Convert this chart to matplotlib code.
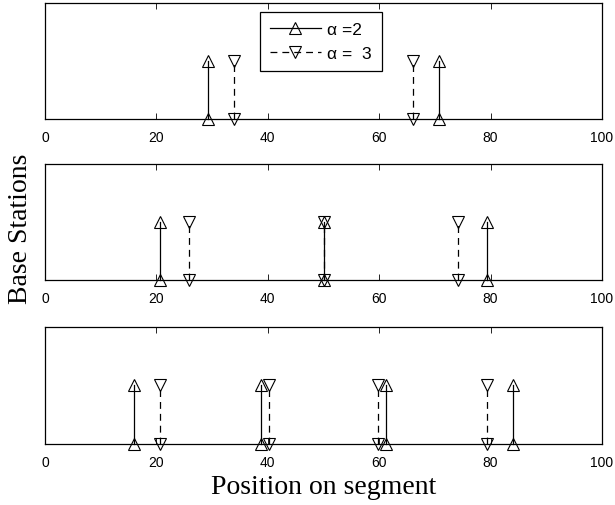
import matplotlib
matplotlib.use('Agg')
import matplotlib.pyplot as plt
import numpy as np

# stem positions (value 1 for every station)
top_a2 = [29.3, 70.7]
top_a3 = [34.0, 66.0]
mid_a2 = [20.7, 50.0, 79.3]
mid_a3 = [25.8, 50.0, 74.2]
bot_a2 = [16.0, 38.7, 61.3, 84.0]
bot_a3 = [20.7, 40.3, 59.7, 79.3]
xticks = [0, 20, 40, 60, 80, 100]
labels = ['\u03b1 =2', '\u03b1 =  3']

plt.rcParams['font.family'] = ['Liberation Sans', 'DejaVu Sans']

fig = plt.figure(figsize=(6.15, 5.06), dpi=100)
rects = [[0.0732, 0.7628, 0.9057, 0.2292],
         [0.0732, 0.4447, 0.9057, 0.2292],
         [0.0732, 0.1206, 0.9057, 0.2312]]
data = [(top_a2, top_a3), (mid_a2, mid_a3), (bot_a2, bot_a3)]

def stems(ax, xs, ls, mk):
    xs = np.array(xs)
    ys = np.ones(len(xs))
    h = None
    for x, y in zip(xs, ys):
        h, = ax.plot([x, x], [0, y], color='k', ls=ls, lw=0.9, marker=mk,
                     ms=8.3, mfc='none', mec='k', mew=0.8, clip_on=False)
        if ls == '--':
            h.set_dashes((5.5, 4))
    return h

axes = []
for r, (a2, a3) in zip(rects, data):
    ax = fig.add_axes(r)
    h2 = stems(ax, a2, '-', '^')
    h3 = stems(ax, a3, '--', 'v')
    ax.set_xlim(0, 100)
    ax.set_ylim(0, 2)
    ax.set_xticks(xticks)
    ax.set_yticks([])
    ax.tick_params(axis='x', direction='in', top=True, length=4, width=0.6,
                   labelsize=10, pad=8)
    for s in ax.spines.values():
        s.set_linewidth(0.9)
    axes.append(ax)
    if len(axes) == 1:
        leg = ax.legend([h2, h3], labels, loc='upper center',
                        bbox_to_anchor=(0.495, 0.925), fancybox=False,
                        edgecolor='k', framealpha=1, fontsize=12.5,
                        handlelength=2.9, handletextpad=0.35,
                        borderpad=0.6, labelspacing=0.47,
                        borderaxespad=0)
        leg.get_frame().set_linewidth(0.9)

fig.text(0.033, 0.547, 'Base Stations', rotation=90, ha='center', va='center',
         family='Liberation Serif', fontsize=20)
fig.text(0.526, 0.036, 'Position on segment', ha='center', va='center',
         family='Liberation Serif', fontsize=20)

fig.savefig('out.png', dpi=100)
